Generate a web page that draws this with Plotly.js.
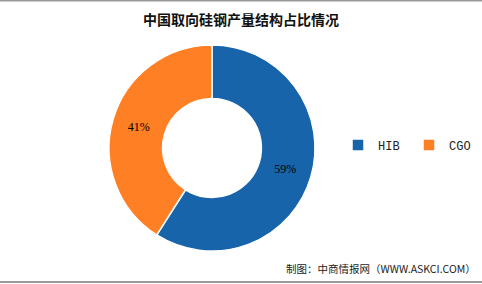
<!DOCTYPE html>
<html><head><meta charset="utf-8">
<script src="https://cdn.plot.ly/plotly-3.0.1.min.js"></script>
<style>html,body{margin:0;padding:0;background:#fff}#c{width:482px;height:284px}</style>
</head><body><div id="c"></div>
<script>
var labels = ['HIB', 'CGO'];
var values = [59, 41];
var colors = ['#1764AB', '#FF7F24'];
var titleText = '中国取向硅钢产量结构占比情况';
var sourceText = '制图：中商情报网（WWW.ASKCI.COM）';

var trace = {
  type: 'pie',
  labels: labels,
  values: values,
  hole: 0.48,
  sort: false,
  direction: 'clockwise',
  rotation: 0,
  marker: {colors: colors, line: {color: '#ffffff', width: 1.5}},
  texttemplate: '%{value}%',
  textposition: 'inside',
  insidetextorientation: 'horizontal',
  textfont: {family: 'Liberation Serif, serif', size: 12, color: '#000000'},
  hoverinfo: 'none',
  domain: {x: [109/482, 315/482], y: [1 - 251/284, 1 - 45/284]}
};

var layout = {
  width: 482, height: 284,
  margin: {l: 0, r: 0, t: 0, b: 0},
  paper_bgcolor: '#ffffff',
  title: {text: '<b>' + titleText + '</b>', x: 0.5, xanchor: 'center', y: 1 - 20/284, yanchor: 'middle',
          font: {family: 'Noto Sans CJK SC, sans-serif', size: 14, color: '#111111'}},
  showlegend: true,
  legend: {orientation: 'h', x: 338/482, xanchor: 'left', y: 1 - 145/284, yanchor: 'middle',
           font: {family: 'Liberation Mono, monospace', size: 12, color: '#222222'},
           itemwidth: 30, entrywidth: 26, entrywidthmode: 'pixels', tracegroupgap: 0, bgcolor: 'rgba(0,0,0,0)'},
  annotations: [{text: sourceText, xref: 'paper', yref: 'paper', x: 478/482, xanchor: 'right',
                 y: 1 - 268/284, yanchor: 'middle', showarrow: false,
                 font: {family: 'Noto Sans CJK SC, sans-serif', size: 10.5, color: '#222222'}}],
  shapes: [
    {type: 'line', xref: 'paper', yref: 'paper', x0: 0, x1: 1, y0: 1 - 0.5/284, y1: 1 - 0.5/284, line: {color: '#999999', width: 2}},
    {type: 'line', xref: 'paper', yref: 'paper', x0: 0, x1: 1, y0: 1 - 282/284, y1: 1 - 282/284, line: {color: '#999999', width: 2}}
  ]
};
Plotly.newPlot('c', [trace], layout, {displayModeBar: false, staticPlot: true});
</script></body></html>
